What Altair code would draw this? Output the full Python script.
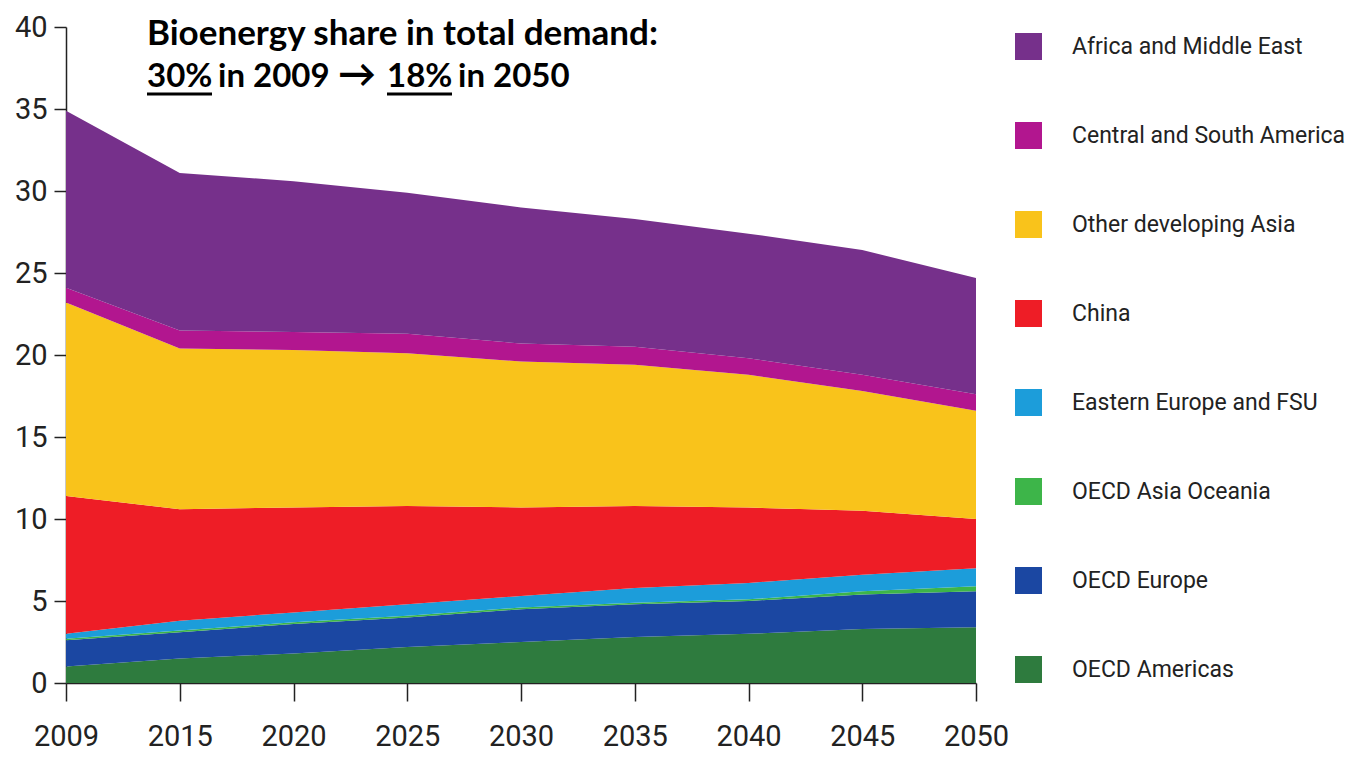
import altair as alt
import pandas as pd

years = ["2009", "2015", "2020", "2025", "2030", "2035", "2040", "2045", "2050"]

legend_order = [
    "Africa and Middle East",
    "Central and South America",
    "Other developing Asia",
    "China",
    "Eastern Europe and FSU",
    "OECD Asia Oceania",
    "OECD Europe",
    "OECD Americas",
]
colors = ["#76308B", "#B2168F", "#F9C31B", "#EE1D26", "#1C9DDA", "#3DB549", "#1B47A2", "#2E7B3E"]

oecd_americas = [1.0, 1.5, 1.8, 2.2, 2.5, 2.8, 3.0, 3.3, 3.4]
oecd_europe = [1.6, 1.6, 1.8, 1.8, 2.0, 2.0, 2.0, 2.1, 2.2]
oecd_asia_oceania = [0.1, 0.1, 0.1, 0.1, 0.1, 0.1, 0.1, 0.2, 0.3]
eastern_europe_fsu = [0.3, 0.6, 0.6, 0.7, 0.7, 0.9, 1.0, 1.0, 1.1]
china = [8.4, 6.8, 6.4, 6.0, 5.4, 5.0, 4.6, 3.9, 3.0]
other_dev_asia = [11.8, 9.8, 9.6, 9.3, 8.9, 8.6, 8.1, 7.3, 6.6]
central_south_america = [0.9, 1.1, 1.1, 1.2, 1.1, 1.1, 1.0, 1.0, 1.0]
africa_middle_east = [10.8, 9.6, 9.2, 8.6, 8.3, 7.8, 7.6, 7.6, 7.1]

series = {
    "OECD Americas": oecd_americas,
    "OECD Europe": oecd_europe,
    "OECD Asia Oceania": oecd_asia_oceania,
    "Eastern Europe and FSU": eastern_europe_fsu,
    "China": china,
    "Other developing Asia": other_dev_asia,
    "Central and South America": central_south_america,
    "Africa and Middle East": africa_middle_east,
}

rows = []
for rank, (name, vals) in enumerate(series.items()):
    for y, v in zip(years, vals):
        rows.append({"Year": y, "Region": name, "value": v, "rank": rank})
df = pd.DataFrame(rows)

axis_font = "Roboto, Liberation Sans, sans-serif"

areas = alt.Chart(df).mark_area(interpolate="linear").encode(
    x=alt.X("Year:O", sort=years, scale=alt.Scale(padding=0),
            axis=alt.Axis(title=None, labelAngle=0, labelFont=axis_font, labelFontSize=29,
                          labelColor="#222", tickSize=18, tickColor="#222", domainColor="#222",
                          tickWidth=1.5, domainWidth=1.5, labelPadding=21)),
    y=alt.Y("value:Q", stack="zero", scale=alt.Scale(domain=[0, 40], nice=False),
            axis=alt.Axis(title=None, values=[0, 5, 10, 15, 20, 25, 30, 35, 40], grid=False,
                          labelFont=axis_font, labelFontSize=29, labelColor="#222",
                          tickSize=12, tickColor="#222", domainColor="#222",
                          tickWidth=1.5, domainWidth=1.5, labelPadding=7)),
    color=alt.Color("Region:N", scale=alt.Scale(domain=legend_order, range=colors),
                    legend=alt.Legend(title=None, orient="none", legendX=949, legendY=6,
                                      symbolType="square", symbolSize=729, symbolStrokeWidth=0,
                                      labelFont=axis_font, labelFontSize=23, labelColor="#222",
                                      labelOffset=30, rowPadding=62, labelLimit=500, padding=0)),
    order=alt.Order("rank:Q", sort="ascending"),
)

title_font = "Lato, Open Sans, sans-serif"
line1 = ["Bioenergy share in total demand:"]
line2_parts = ["30%", "in 2009", "→", "18%", "in 2050"]
line2_x = [81, 152, 272, 321, 392]
underline_x = [(81, 146), (321, 386)]

t1 = alt.Chart(pd.DataFrame({"t": line1})).mark_text(
    align="left", baseline="alphabetic", font=title_font, fontSize=35, fontWeight="bold", color="#000"
).encode(text="t:N", x=alt.value(81), y=alt.value(18))

t2 = [
    alt.Chart(pd.DataFrame({"t": [p]})).mark_text(
        align="left", baseline="alphabetic", font=title_font, fontSize=(38 if p == "→" else 33),
        fontWeight="bold", color="#000"
    ).encode(text="t:N", x=alt.value(px), y=alt.value(60))
    for p, px in zip(line2_parts, line2_x)
]

ul = [
    alt.Chart(pd.DataFrame({"a": [0]})).mark_rule(color="#000", strokeWidth=3).encode(
        x=alt.value(a), x2=alt.value(b), y=alt.value(67))
    for a, b in underline_x
]

chart = alt.layer(areas, t1, *t2, *ul).properties(
    width=910, height=656,
    background="white",
    autosize=alt.AutoSizeParams(type="none"),
    padding={"left": 58, "top": 19, "right": 375, "bottom": 68},
).configure_view(strokeWidth=0)

chart.save("out.html", embed_options={"renderer": "svg", "actions": False})
